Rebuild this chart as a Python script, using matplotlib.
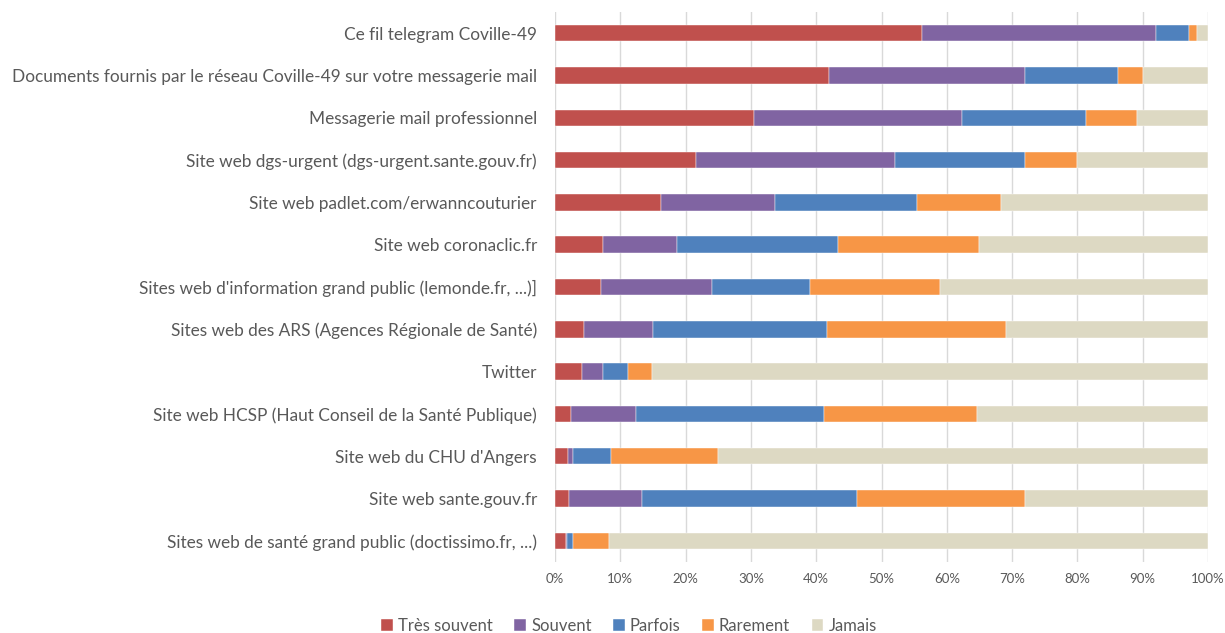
import matplotlib.pyplot as plt
import numpy as np

plt.rcParams['font.family'] = ['Lato', 'DejaVu Sans']

# categories, top to bottom
categories = [
    "Ce fil telegram Coville-49",
    "Documents fournis par le réseau Coville-49 sur votre messagerie mail",
    "Messagerie mail professionnel",
    "Site web dgs-urgent (dgs-urgent.sante.gouv.fr)",
    "Site web padlet.com/erwanncouturier",
    "Site web coronaclic.fr",
    "Sites web d'information grand public (lemonde.fr, ...)]",
    "Sites web des ARS (Agences Régionale de Santé)",
    "Twitter",
    "Site web HCSP (Haut Conseil de la Santé Publique)",
    "Site web du CHU d'Angers",
    "Site web sante.gouv.fr",
    "Sites web de santé grand public (doctissimo.fr, ...)",
]

tres_souvent = [56.2, 42.0, 30.4, 21.6, 16.2, 7.4, 7.0, 4.4, 4.1, 2.4, 2.0, 2.1, 1.7]
souvent      = [35.8, 30.0, 32.0, 30.5, 17.5, 11.3, 17.1, 10.6, 3.3, 10.0, 0.8, 11.2, 0.1]
parfois      = [5.1, 14.2, 18.9, 19.9, 21.7, 24.7, 15.0, 26.6, 3.8, 28.8, 5.8, 32.9, 1.0]
rarement     = [1.2, 3.8, 7.8, 8.0, 12.9, 21.6, 19.9, 27.5, 3.7, 23.4, 16.3, 25.8, 5.4]
jamais       = [1.7, 10.0, 10.9, 20.0, 31.7, 35.0, 41.0, 30.9, 85.1, 35.4, 75.1, 28.0, 91.8]

series = ["Très souvent", "Souvent", "Parfois", "Rarement", "Jamais"]
colors = ["#C0504D", "#8064A2", "#4F81BD", "#F79646", "#DDD9C3"]
values = [tres_souvent, souvent, parfois, rarement, jamais]

fig = plt.figure(figsize=(12.25, 6.33), dpi=100)
ax = fig.add_axes([555/1225, 1 - 562/633, 653/1225, 550/633])

y = np.arange(len(categories))
left = np.zeros(len(categories))
for name, col, vals in zip(series, colors, values):
    vals = np.array(vals)
    ax.barh(y, vals, left=left, height=0.39, color=col, label=name,
            edgecolor='white', linewidth=0.3, zorder=3)
    left += vals

ax.set_xlim(0, 100)
ax.set_ylim(len(categories) - 0.5, -0.5)
ax.set_xticks(np.arange(0, 101, 10))
ax.set_xticklabels([f"{v}%" for v in range(0, 101, 10)])
ax.set_yticks(y)
ax.set_yticklabels(categories)
ax.grid(axis='x', color='#d9d9d9', linewidth=1, zorder=0)
for s in ax.spines.values():
    s.set_visible(False)
ax.tick_params(axis='both', length=0, colors='#595959')
ax.tick_params(axis='y', labelsize=12.4, pad=13)
ax.tick_params(axis='x', labelsize=9.5, pad=8)

fig.legend(loc='center', bbox_to_anchor=(629/1225, 1 - 626/633),
           bbox_transform=fig.transFigure, ncol=5,
           frameon=False, fontsize=12, handlelength=0.7, handleheight=0.7,
           handletextpad=0.3, columnspacing=1.3, labelcolor='#595959')

plt.savefig('out.png')
